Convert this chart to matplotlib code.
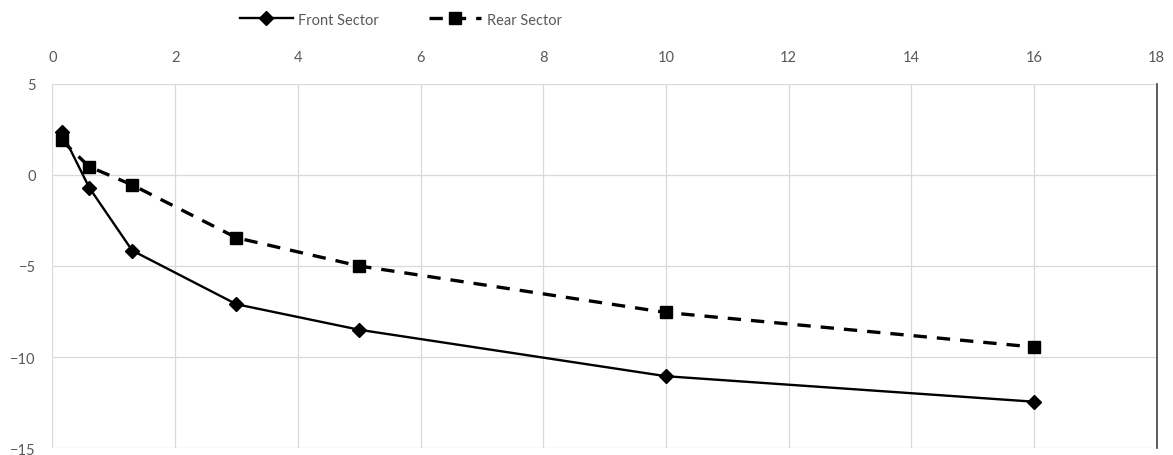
import matplotlib
matplotlib.use("Agg")
import matplotlib.pyplot as plt

# --------------------------------------------------
# Data
# --------------------------------------------------
x_front = [0.15, 0.6, 1.3, 3, 5, 10, 16]
front_sector = [2.35, -0.7, -4.15, -7.1, -8.5, -11.05, -12.45]

x_rear = [0.15, 0.6, 1.3, 3, 5, 10, 16]
rear_sector = [1.9, 0.45, -0.55, -3.45, -5.0, -7.55, -9.45]

x_ticks = [0, 2, 4, 6, 8, 10, 12, 14, 16, 18]
y_ticks = [-15, -10, -5, 0, 5]

plt.rcParams["font.family"] = ["Lato", "DejaVu Sans"]

# --------------------------------------------------
# Plot
# --------------------------------------------------
fig = plt.figure(figsize=(11.73, 4.56), dpi=100)
ax = fig.add_axes([0.0447, 0.015, 0.9414, 0.799])

ax.plot(x_front, front_sector, color="black", linewidth=1.7,
        marker="D", markersize=7, label="Front Sector", zorder=3)
ax.plot(x_rear, rear_sector, color="black", linewidth=2.4,
        linestyle=(0, (4, 3)), marker="s", markersize=8,
        label="Rear Sector", zorder=3)

ax.set_xlim(0, 18)
ax.set_ylim(-15, 5)
ax.set_xticks(x_ticks)
ax.set_yticks(y_ticks)
ax.xaxis.tick_top()
ax.tick_params(axis="both", length=0, labelsize=10.5, colors="#595959")
ax.tick_params(axis="x", pad=14)
ax.tick_params(axis="y", pad=12)
for lab in ax.get_yticklabels():
    lab.set_verticalalignment("center_baseline")

ax.grid(True, color="#d9d9d9", linewidth=0.9)
ax.set_axisbelow(True)
for side in ["left", "top", "bottom"]:
    ax.spines[side].set_visible(False)
ax.spines["right"].set_color("#404040")
ax.spines["right"].set_linewidth(1.2)

fig.legend(loc="center", bbox_to_anchor=(0.342, 0.955), ncol=2,
           frameon=False, fontsize=10.5, handlelength=3.6,
           handletextpad=0.4, columnspacing=3.4, labelcolor="#595959")

fig.savefig("out.png", dpi=100)
